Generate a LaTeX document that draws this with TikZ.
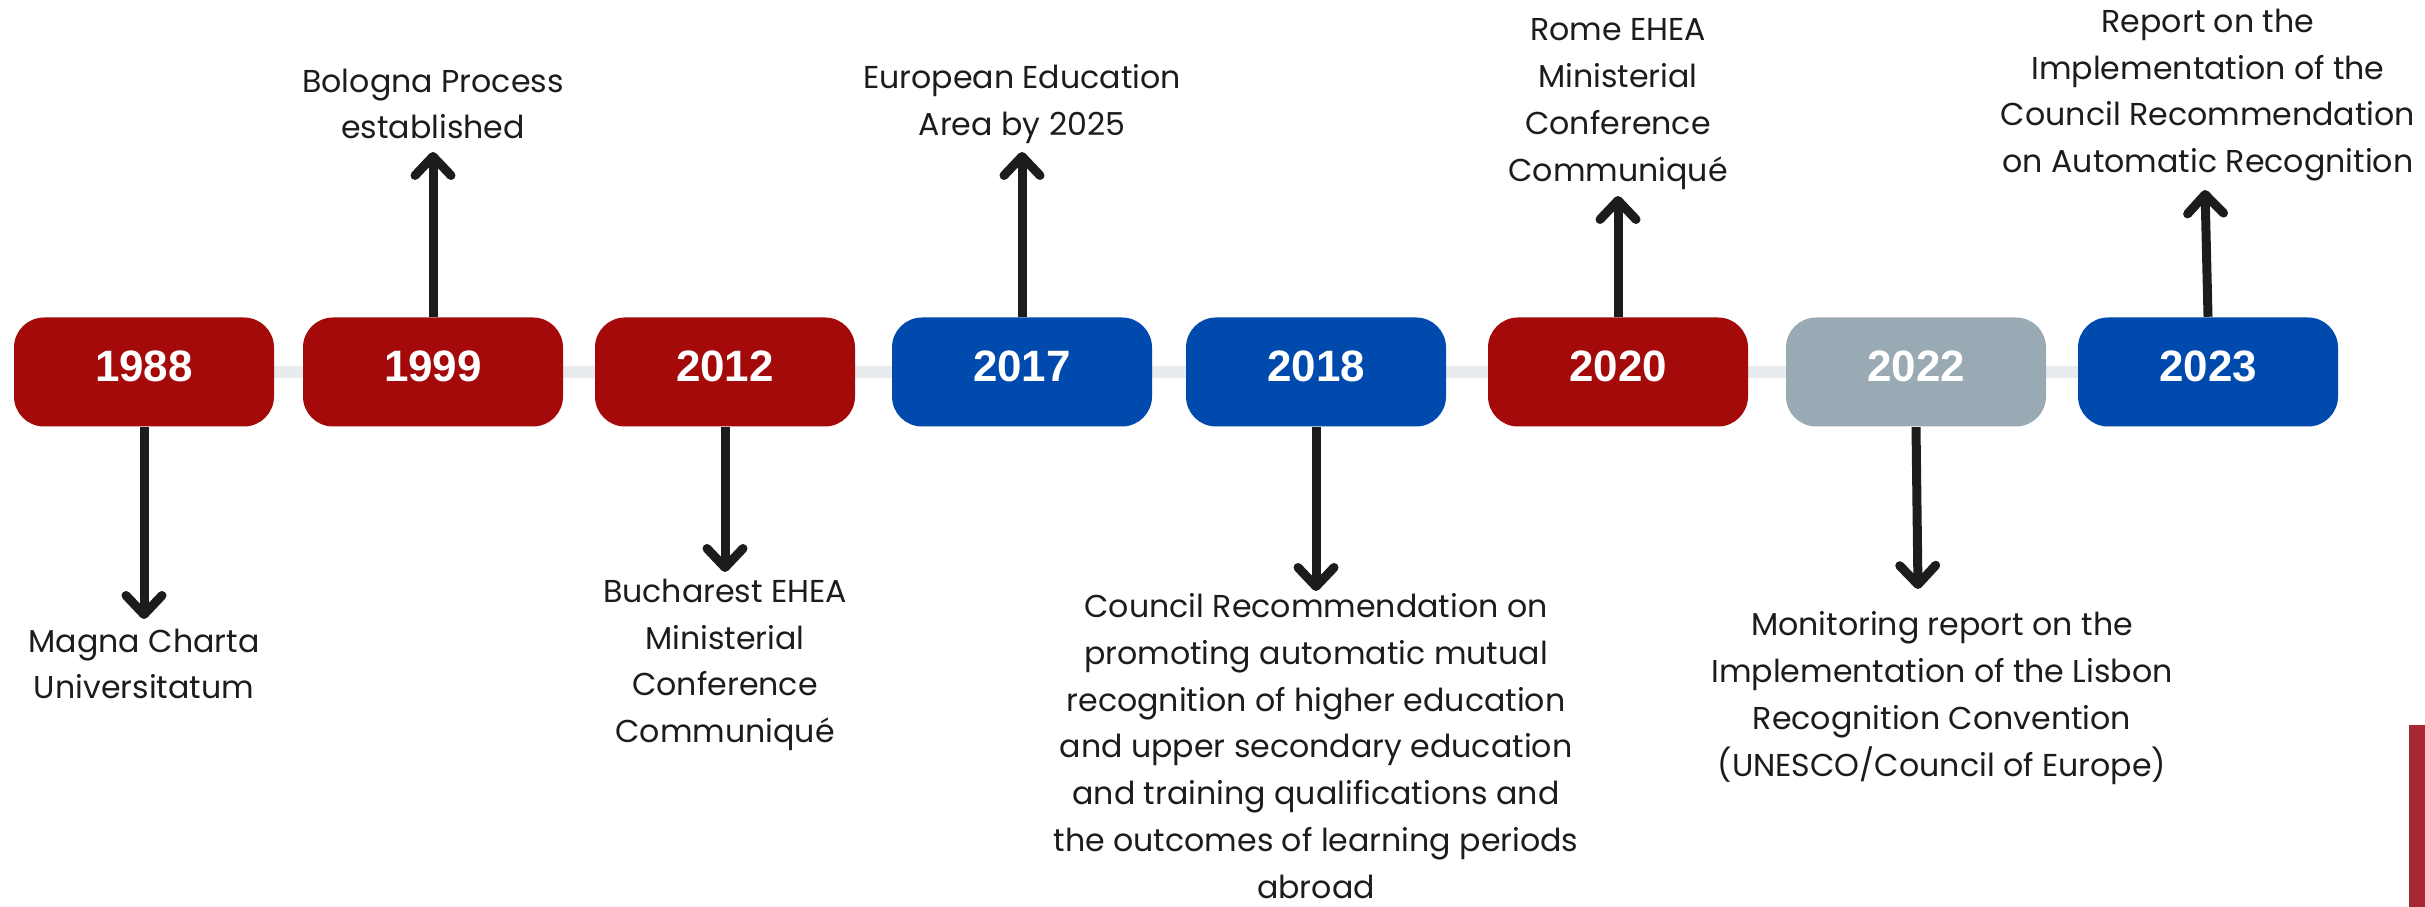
\documentclass[tikz,border=0pt]{standalone}
\usepackage{fontspec}
\setmainfont{Poppins}
\newfontfamily\yearfont{Liberation Sans}
\usetikzlibrary{arrows.meta}
\definecolor{eured}{HTML}{A50A0A}
\definecolor{eublue}{HTML}{004AAD}
\definecolor{eugrey}{HTML}{99AAB5}
\definecolor{railgrey}{HTML}{E8ECEF}
\definecolor{inkblack}{HTML}{1C1C1C}
\definecolor{barred}{HTML}{A62833}

\begin{document}
\begin{tikzpicture}[
  year/.style={rounded corners=0.3cm,minimum width=2.6cm,minimum height=1.09cm,inner sep=0pt,text=white,text depth=0.12cm,font=\yearfont\bfseries\fontsize{12.5}{14}\selectfont},
  note/.style={align=center,inner sep=0pt,text=inkblack,font=\fontsize{9}{13.3}\selectfont},
  link/.style={line width=0.09cm,draw=inkblack,-{Straight Barb[length=0.19cm,width=0.36cm,round]}}]
\useasboundingbox (0,0) rectangle (24.25,9.07);

% rail behind the years
\draw[railgrey,line width=0.12cm] (1.44,5.35) -- (22.08,5.35);

\node[year,fill=eured] (y1988) at (1.44,5.35) {1988};
\node[year,fill=eured] (y1999) at (4.33,5.35) {1999};
\node[year,fill=eured] (y2012) at (7.25,5.35) {2012};
\node[year,fill=eublue] (y2017) at (10.22,5.35) {2017};
\node[year,fill=eublue] (y2018) at (13.16,5.35) {2018};
\node[year,fill=eured] (y2020) at (16.18,5.35) {2020};
\node[year,fill=eugrey] (y2022) at (19.16,5.35) {2022};
\node[year,fill=eublue] (y2023) at (22.08,5.35) {2023};

% arrow ends
\coordinate (e1988) at (1.44,2.88);
\coordinate (e1999) at (4.33,7.55);
\coordinate (e2012) at (7.25,3.35);
\coordinate (e2017) at (10.22,7.55);
\coordinate (e2018) at (13.16,3.16);
\coordinate (e2020) at (16.18,7.11);
\coordinate (e2022) at (19.18,3.18);
\coordinate (e2023) at (22.05,7.17);

\draw[link] (y1988.south) -- (e1988);
\draw[link] (y1999.north) -- (e1999);
\draw[link] (y2012.south) -- (e2012);
\draw[link] (y2017.north) -- (e2017);
\draw[link] (y2018.south) -- (e2018);
\draw[link] (y2020.north) -- (e2020);
\draw[link] (y2022.south) -- (e2022);
\draw[link] (y2023.north) -- (e2023);

\node[note] (t1988) at (1.44,2.43) {Magna Charta\\Universitatum};
\node[note] (t1999) at (4.33,8.03) {Bologna Process\\established};
\node[note] (t2012) at (7.25,2.42) {Bucharest EHEA\\Ministerial\\Conference\\Communiqué};
\node[note] (t2017) at (10.22,8.03) {European Education\\Area by 2025};
\node[note] (t2018) at (13.16,1.61) {Council Recommendation on\\promoting automatic mutual\\recognition of higher education\\and upper secondary education\\and training qualifications and\\the outcomes of learning periods\\abroad};
\node[note] (t2020) at (16.18,8.03) {Rome EHEA\\Ministerial\\Conference\\Communiqué};
\node[note] (t2022) at (19.42,2.09) {Monitoring report on the\\Implementation of the Lisbon\\Recognition Convention\\(UNESCO/Council of Europe)};
\node[note] (t2023) at (22.08,8.12) {Report on the\\Implementation of the\\Council Recommendation\\on Automatic Recognition};

% red strip, lower right edge
\fill[barred] (24.09,0) rectangle (24.25,1.82);
\end{tikzpicture}
\end{document}
